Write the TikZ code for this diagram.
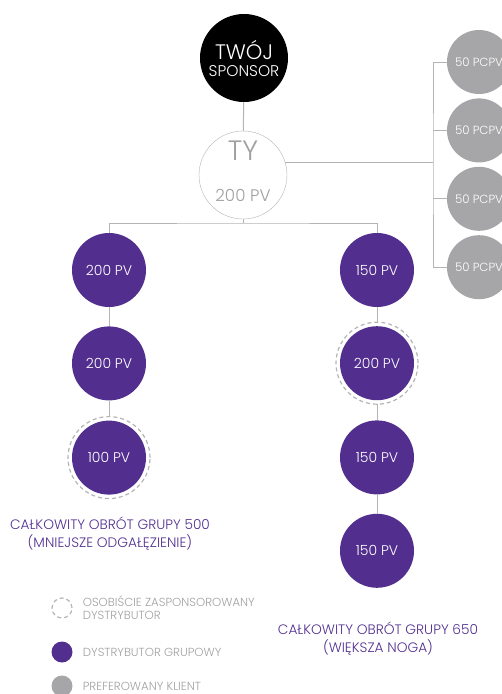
\documentclass[tikz,border=0pt]{standalone}
\usepackage{fontspec}
\setmainfont{Poppins Light}
\usetikzlibrary{positioning}

\definecolor{grupa}{RGB}{82,46,143}
\definecolor{klient}{RGB}{166,166,168}
\definecolor{linia}{RGB}{180,180,180}
\definecolor{opis}{RGB}{160,160,160}

\begin{document}
\begin{tikzpicture}[x=1pt, y=-1pt, node distance=19pt,
    every node/.style={inner sep=0pt},
    dyst/.style={circle, fill=grupa, text=white, minimum size=74pt, font=\fontsize{14}{16}\selectfont},
    osob/.style={dyst, outer sep=4pt},
    klient/.style={circle, fill=klient, text=white, minimum size=64pt, font=\fontsize{11.8}{14}\selectfont},
    polacz/.style={draw=linia, line width=1pt},
    pierscien/.style={draw=linia, dashed, dash pattern=on 4pt off 3pt, line width=1.2pt},
    legenda/.style={text=opis, font=\fontsize{11.7}{13}\selectfont, align=left, anchor=west},
    suma/.style={text=grupa, font=\fontsize{13.7}{18}\selectfont, align=center}]
    \clip (0,0) rectangle (502,694);

    \node (sponsor) at (244,58) [circle, fill=black, text=white, minimum size=88pt, align=center]
        {{\fontsize{21}{21}\selectfont TWÓJ}\\[5pt]{\fontsize{15.5}{16}\selectfont SPONSOR}};
    \node (ty) at (243,175) [circle, draw=linia, fill=white, text=opis, minimum size=87pt, align=center, text depth=8pt]
        {{\fontsize{28}{28}\selectfont TY}\\[28pt]{\fontsize{16.7}{17}\selectfont 200 PV}};

    % mniejsza noga
    \node (l1) at (109,270) [dyst] {200 PV};
    \node (l2) [dyst, below=of l1] {200 PV};
    \node (l3) [osob, below=16pt of l2] {100 PV};

    % wieksza noga
    \node (r1) at (377,270) [dyst] {150 PV};
    \node (r2) [osob, below=15pt of r1] {200 PV};
    \node (r3) [dyst, below=16pt of r2] {150 PV};
    \node (r4) [dyst, below=of r3] {150 PV};

    % klienci
    \node (p1) at (479,62) [klient] {50 PCPV};
    \node (p2) [klient, below=4pt of p1] {50 PCPV};
    \node (p3) [klient, below=4pt of p2] {50 PCPV};
    \node (p4) [klient, below=4pt of p3] {50 PCPV};

    \coordinate (split) at (243,223);
    \coordinate (brk) at (433,163);

    \draw[pierscien] (l3) circle[radius=41pt];
    \draw[pierscien] (r2) circle[radius=41pt];

    \draw[polacz] (sponsor) -- (ty);
    \draw[polacz] (ty) -- (split);
    \draw[polacz] (l1) |- (split) -| (r1);
    \draw[polacz] (l1) -- (l2);
    \draw[polacz] (l2) -- (l3);
    \draw[polacz] (r1) -- (r2);
    \draw[polacz] (r2) -- (r3);
    \draw[polacz] (r3) -- (r4);
    \draw[polacz] (ty.16) -- (ty.16 -| brk);
    \draw[polacz] (p1) -| (brk) |- (p4);
    \draw[polacz] (p2) -- (p2 -| brk);
    \draw[polacz] (p3) -- (p3 -| brk);

    \node (suma500) at (110,534) [suma] {CAŁKOWITY OBRÓT GRUPY 500\\(MNIEJSZE ODGAŁĘZIENIE)};
    \node (suma650) at (378,639) [suma] {CAŁKOWITY OBRÓT GRUPY 650\\(WIĘKSZA NOGA)};

    % legenda
    \node (leg1) at (62,608) [circle, pierscien, minimum size=20pt] {};
    \node (leg2) at (62,652) [circle, fill=grupa, minimum size=21pt] {};
    \node (leg3) at (62,686) [circle, fill=klient, minimum size=21pt] {};
    \node (txt1) [legenda, right=10pt of leg1] {OSOBIŚCIE ZASPONSOROWANY\\DYSTRYBUTOR};
    \node (txt2) [legenda, right=10pt of leg2] {DYSTRYBUTOR GRUPOWY};
    \node (txt3) [legenda, right=10pt of leg3] {PREFEROWANY KLIENT};
\end{tikzpicture}
\end{document}
